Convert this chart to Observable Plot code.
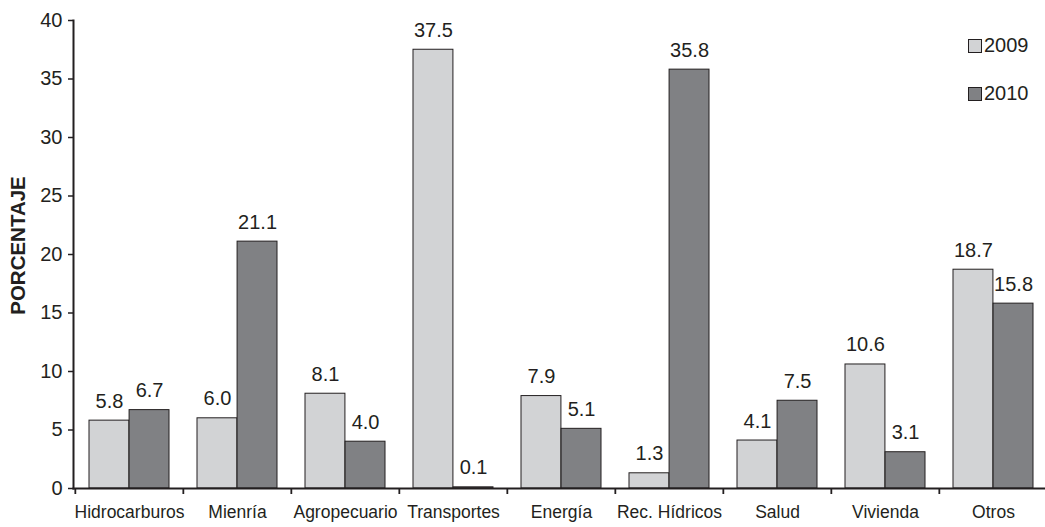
<!DOCTYPE html>
<html>
<head>
<meta charset="utf-8">
<script src="https://cdn.jsdelivr.net/npm/d3@7"></script>
<script src="https://cdn.jsdelivr.net/npm/@observablehq/plot@0.6"></script>
<style>
  html, body { margin: 0; padding: 0; background: #fff; overflow: hidden; }
  #wrap { position: relative; width: 1045px; height: 527px; }
  .legend { position: absolute; left: 968px; font-family: "Liberation Sans", Arial, sans-serif; font-size: 20px; color: #231f20; display: flex; align-items: center; }
  .legend span.sw { display: inline-block; width: 14px; height: 14px; border: 1px solid #231f20; margin-right: 2px; box-sizing: border-box; }
</style>
</head>
<body>
<div id="wrap"></div>
<script>
const categories = ["Hidrocarburos", "Mienría", "Agropecuario", "Transportes", "Energía", "Rec. Hídricos", "Salud", "Vivienda", "Otros"];
const values2009 = [5.8, 6.0, 8.1, 37.5, 7.9, 1.3, 4.1, 10.6, 18.7];
const values2010 = [6.7, 21.1, 4.0, 0.1, 5.1, 35.8, 7.5, 3.1, 15.8];
const years = ["2009", "2010"];
const yTicks = [0, 5, 10, 15, 20, 25, 30, 35, 40];
const colors = {"2009": "#d2d3d5", "2010": "#808184"};

const data = [];
categories.forEach((c, i) => {
  data.push({cat: c, year: "2009", v: values2009[i]});
  data.push({cat: c, year: "2010", v: values2010[i]});
});

const W = 1045, H = 527;
const mL = 73, mR = -3;
const step = (W - mL - mR) / categories.length;
const half = step * 0.74 / 2;
const ink = "#231f20";
const font = "Liberation Sans, Arial, sans-serif";

const chart = Plot.plot({
  width: W,
  height: H,
  marginLeft: mL,
  marginRight: mR,
  marginTop: 20,
  marginBottom: 39,
  style: {fontFamily: font, color: ink, background: "white", overflow: "visible"},
  x: {domain: categories, paddingInner: 0.26, paddingOuter: 0.13},
  y: {domain: [0, 40]},
  marks: [
    Plot.barY(data.filter(d => d.year === "2009"), {x: "cat", y: "v", fill: colors["2009"], stroke: ink, strokeWidth: 1, insetRight: half}),
    Plot.barY(data.filter(d => d.year === "2010"), {x: "cat", y: "v", fill: colors["2010"], stroke: ink, strokeWidth: 1, insetLeft: half}),
    Plot.text(data.filter(d => d.year === "2009"), {x: "cat", y: "v", text: d => d.v.toFixed(1), dx: -half / 2, dy: -13, lineAnchor: "bottom", fontSize: 20, fill: ink}),
    Plot.text(data.filter(d => d.year === "2010"), {x: "cat", y: "v", text: d => d.v.toFixed(1), dx: half / 2, dy: -13, lineAnchor: "bottom", fontSize: 20, fill: ink}),
    Plot.axisY({ticks: yTicks, tickSize: 5, tickPadding: 6, fontSize: 20, label: null, stroke: ink, strokeWidth: 1.5, color: ink}),
    Plot.axisX({tickSize: 0, tickPadding: 17, fontSize: 17.5, label: null, color: ink}),
    Plot.axisX({tickSize: 6, text: null, dx: -step / 2, label: null, stroke: ink, strokeWidth: 1.8}),
    Plot.frame({anchor: "left", stroke: ink, strokeWidth: 2}),
    Plot.frame({anchor: "bottom", stroke: ink, strokeWidth: 2}),
    Plot.text(["PORCENTAJE"], {frameAnchor: "left", textAnchor: "middle", rotate: -90, dx: -55, dy: -9, fontSize: 20.5, fontWeight: "bold", fill: ink})
  ]
});

const wrap = document.getElementById("wrap");
wrap.appendChild(chart);
years.forEach((y, i) => {
  const el = document.createElement("div");
  el.className = "legend";
  el.style.top = (34 + i * 48) + "px";
  el.innerHTML = `<span class="sw" style="background:${colors[y]}"></span>${y}`;
  wrap.appendChild(el);
});
</script>
</body>
</html>
